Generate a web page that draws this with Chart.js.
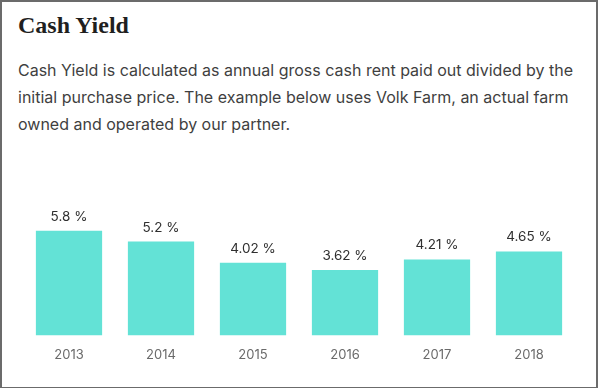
<!DOCTYPE html>
<html>
<head>
<meta charset="utf-8">
<script src="https://cdn.jsdelivr.net/npm/chart.js@4"></script>
<style>
  html, body { margin: 0; padding: 0; background: #fff; }
  .card {
    position: relative;
    width: 598px;
    height: 388px;
    box-sizing: border-box;
    border: 2px solid #6b6b6b;
    border-bottom-width: 1px;
    background: #fff;
    overflow: hidden;
  }
  h2 {
    position: absolute;
    left: 16px;
    top: 10px;
    margin: 0;
    font-family: "Liberation Serif", serif;
    font-weight: bold;
    font-size: 24px;
    color: #1f1f1f;
  }
  p {
    position: absolute;
    left: 16px;
    top: 55px;
    margin: 0;
    font-family: "Inter", sans-serif;
    font-size: 16px;
    line-height: 27px;
    color: #3f3f3f;
    white-space: nowrap;
  }
  .chart-box {
    position: absolute;
    left: -4px;
    top: 181px;
    width: 600px;
    height: 208px;
  }
</style>
</head>
<body>
<div class="card">
  <h2>Cash Yield</h2>
  <p>Cash Yield is calculated as annual gross cash rent paid out divided by the<br>initial purchase price. The example below uses Volk Farm, an actual farm<br>owned and operated by our partner.</p>
  <div class="chart-box"><canvas id="chart"></canvas></div>
</div>
<script>
// data
const years = ["2013", "2014", "2015", "2016", "2017", "2018"];
const cashYield = [5.8, 5.2, 4.02, 3.62, 4.21, 4.65];
const valueLabels = ["5.8 %", "5.2 %", "4.02 %", "3.62 %", "4.21 %", "4.65 %"];

//labels above each bar
const barLabels = {
  id: "barLabels",
  afterDatasetsDraw(chart) {
    const ctx = chart.ctx;
    const meta = chart.getDatasetMeta(0);
    ctx.save();
    ctx.font = "13.5px Inter, sans-serif";
    ctx.fillStyle = "#2f2f2f";
    ctx.textAlign = "center";
    ctx.textBaseline = "middle";
    meta.data.forEach((bar, i) => {
      ctx.fillText(valueLabels[i], bar.x, bar.y - 14);
    });
    ctx.restore();
  },
};

function generateChart() {
  const ctx = document.getElementById("chart");
  return new Chart(ctx, {
    type: "bar",
    data: {
      labels: years,
      datasets: [
        {
          label: "Cash Yield",
          data: cashYield,
          backgroundColor: "rgb(99,226,214)",
          borderWidth: 0,
          categoryPercentage: 0.72,
          barPercentage: 1,
        },
      ],
    },
    options: {
      responsive: true,
      maintainAspectRatio: false,
      animation: false,
      layout: { padding: { left: 25, right: 23, top: 26, bottom: 24 } },
      plugins: { legend: { display: false }, tooltip: { enabled: false } },
      scales: {
        x: {
          grid: { display: false },
          border: { display: false },
          ticks: {
            color: "#6a6a6a",
            padding: 4,
            font: { family: "Inter", size: 13 },
          },
        },
        y: {
          display: false,
          min: 0,
          max: 7,
        },
      },
    },
    plugins: [barLabels],
  });
}

window.onload = function () {
  generateChart();
};
</script>
</body>
</html>
